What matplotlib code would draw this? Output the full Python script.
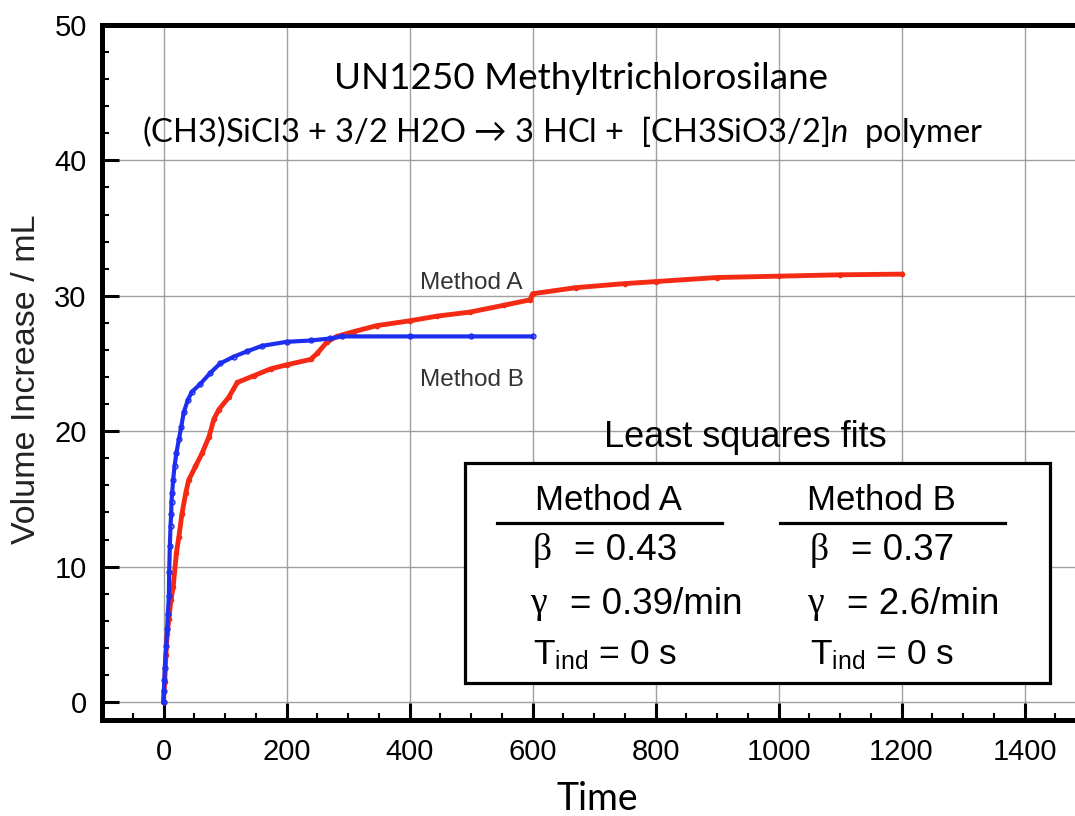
import matplotlib.pyplot as plt
from matplotlib.ticker import MultipleLocator
from matplotlib.patches import Rectangle

plt.rcParams['font.family'] = ['Liberation Sans', 'DejaVu Sans']
plt.rcParams['mathtext.fontset'] = 'custom'
plt.rcParams['mathtext.rm'] = 'Liberation Sans'
plt.rcParams['mathtext.it'] = 'Lato:italic'

# Method A (red)
t_a = [0, 2, 4, 6, 8.7, 12, 15.7, 21, 25, 30, 36, 41, 52, 63, 74, 82, 90,
       106, 120, 147, 174, 200, 239, 250, 266, 282, 309, 347, 400, 445, 499,
       553, 596, 600, 670, 750, 800, 900, 1000, 1100, 1200]
v_a = [0, 1.5, 3.5, 5.0, 6.1, 7.5, 8.5, 11.0, 12.2, 13.9, 15.4, 16.4, 17.4,
       18.4, 19.6, 20.9, 21.6, 22.5, 23.6, 24.1, 24.6, 24.9, 25.3, 25.75,
       26.6, 27.0, 27.35, 27.8, 28.15, 28.5, 28.8, 29.3, 29.7, 30.15, 30.6,
       30.9, 31.05, 31.35, 31.45, 31.55, 31.6]

# Method B (blue)
t_b = [0, 0.5, 1.6, 2, 4.3, 6, 7, 8.7, 9.2, 10.3, 11.4, 12.5, 13, 14, 15.7,
       17.9, 21, 25, 28.7, 33, 39.5, 46, 60, 76, 92, 114, 136, 160, 200, 240,
       271, 290, 400, 500, 600]
v_b = [0, 0.8, 1.6, 2.5, 4.1, 5.4, 6.5, 7.8, 9.6, 11.5, 13.0, 13.9, 14.8,
       15.4, 16.4, 17.4, 18.4, 19.4, 20.3, 21.4, 22.3, 22.9, 23.5, 24.3, 25.0,
       25.5, 25.9, 26.3, 26.6, 26.7, 26.85, 27.0, 27.0, 27.0, 27.0]

fits_a = ['= 0.43', '= 0.39/min', '= 0 s']
fits_b = ['= 0.37', '= 2.6/min', '= 0 s']

fig = plt.figure(figsize=(10.75, 8.16), dpi=100)
ax = fig.add_axes([102 / 1075, 1 - 720 / 816, 973 / 1075, 695 / 816])

ax.plot(t_a, v_a, color='#f52a14', lw=3.5, marker='o', ms=3, mfc='none', mew=1, zorder=3)
ax.plot(t_b, v_b, color='#1e2ef0', lw=3.0, marker='o', ms=3.5, mfc='none', mew=1, zorder=4)

ax.set_xlim(-100, 1482)
ax.set_ylim(-1.33, 50)
ax.xaxis.set_major_locator(MultipleLocator(200))
ax.xaxis.set_minor_locator(MultipleLocator(50))
ax.yaxis.set_major_locator(MultipleLocator(10))
ax.yaxis.set_minor_locator(MultipleLocator(2))
ax.grid(True, which='major', color='#a0a0a0', lw=1)
ax.set_axisbelow(True)

ax.tick_params(which='major', direction='in', length=12, width=2.2, labelsize=21)
ax.tick_params(which='minor', direction='in', length=5, width=1.5)
ax.tick_params(axis='x', pad=13)
ax.tick_params(axis='y', pad=11)
for s in ['left', 'bottom', 'top']:
    ax.spines[s].set_linewidth(3.6)
ax.spines['right'].set_visible(False)

ax.set_ylabel('Volume Increase / mL', fontsize=24.5, color='#222222')
ax.yaxis.set_label_coords(-0.062, 0.49)
ax.set_xlabel('Time', fontsize=27, family='Lato')
ax.xaxis.set_label_coords(0.509, -0.088)

tr = ax.transAxes
ax.text(0.492, 0.9237, 'UN1250 Methyltrichlorosilane', transform=tr, ha='center',
        va='center', fontsize=26.5, family='Lato')
ax.text(0.473, 0.846, '(CH3)SiCl3 + 3/2 H2O \u2192 3 HCl +  [CH3SiO3/2]$n$  polymer',
        transform=tr, ha='center', va='center', fontsize=23.5, family=['Lato', 'DejaVu Sans'])

ax.text(0.380, 0.629, 'Method A', transform=tr, ha='center', va='center',
        fontsize=17.5, color='#333333')
ax.text(0.380, 0.489, 'Method B', transform=tr, ha='center', va='center',
        fontsize=17.5, color='#333333')

ax.text(0.661, 0.407, 'Least squares fits', transform=tr, ha='center', va='center', fontsize=26)
ax.add_patch(Rectangle((0.373, 0.0532), 0.601, 0.3166, transform=tr, fill=True,
                       facecolor='white', edgecolor='black', lw=2.3, zorder=5))

cols = [(0.521, 0.406, 0.637, 0.443, 'Method A', fits_a),
        (0.8006, 0.697, 0.928, 0.7276, 'Method B', fits_b)]
rows_y = [0.2446, 0.1669, 0.0935]
for cx, u0, u1, lx, name, vals in cols:
    ax.text(cx, 0.3165, name, transform=tr, ha='center', va='center', fontsize=25, zorder=6)
    ax.plot([u0, u1], [0.2835, 0.2835], transform=tr, color='black', lw=2.3, zorder=6)
    ax.text(lx, rows_y[0], '\u03b2', transform=tr, ha='left', va='center', fontsize=27,
            family='Liberation Serif', zorder=6)
    ax.text(lx + 0.042, rows_y[0], vals[0], transform=tr, ha='left', va='center',
            fontsize=26.5, zorder=6)
    ax.text(lx - 0.003, rows_y[1], '\u03b3', transform=tr, ha='left', va='center', fontsize=27,
            family='Liberation Serif', zorder=6)
    ax.text(lx + 0.038, rows_y[1], vals[1], transform=tr, ha='left', va='center',
            fontsize=26.5, zorder=6)
    ax.text(lx, rows_y[2], 'T$_\\mathrm{ind}$ ' + vals[2], transform=tr, ha='left',
            va='center', fontsize=25.5, zorder=6)

fig.savefig('out.png', dpi=100)
